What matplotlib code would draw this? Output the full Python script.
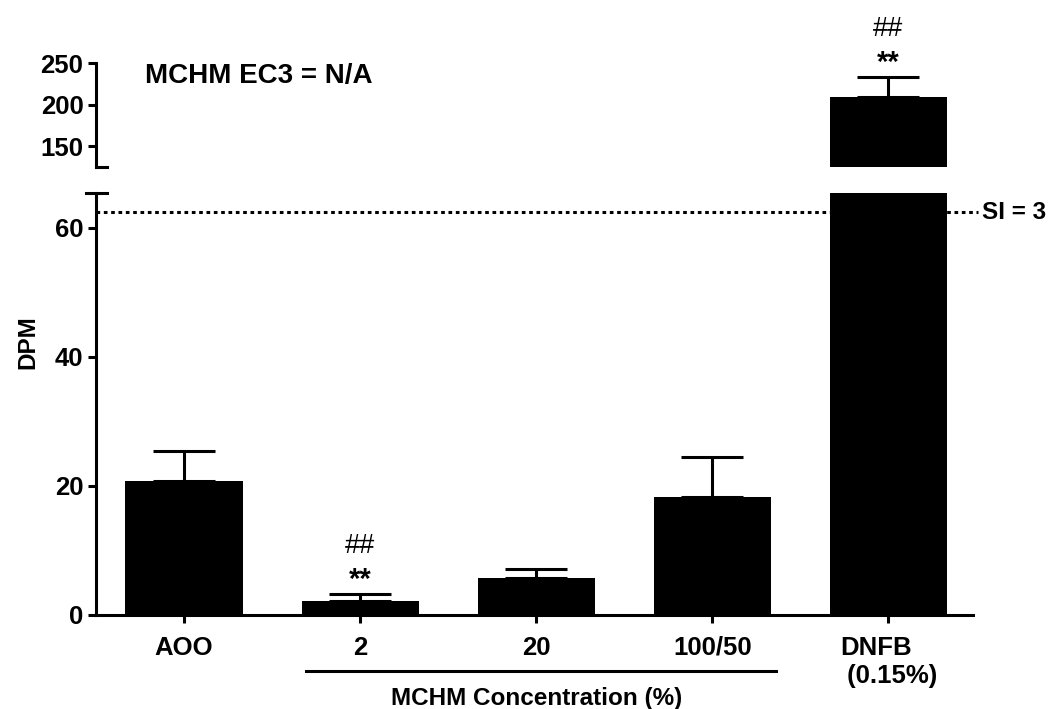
import matplotlib
matplotlib.use("Agg")
import matplotlib.pyplot as plt

plt.rcParams['font.family'] = ['Liberation Sans', 'DejaVu Sans']
plt.rcParams['font.weight'] = 'bold'

# data
groups = ["AOO", "2", "20", "100/50", "DNFB\n (0.15%)"]
means = [20.8, 2.2, 5.7, 18.3, 209]
errors = [4.6, 1.1, 1.4, 6.2, 24]
stars = ["", "**", "", "", "**"]
hashes = ["", "##", "", "", "##"]
si_level = 3 * means[0]

lw = 2.2
fs = 18.5

fig = plt.figure(figsize=(10.5, 7.09), dpi=100)
ax_lo = fig.add_axes([0.0914, 0.1326, 0.8352, 0.5952])
ax_hi = fig.add_axes([0.0914, 0.7645, 0.8352, 0.1466])

x = list(range(len(groups)))

for ax in (ax_lo, ax_hi):
    ax.bar(x, means, width=0.665, color="black", zorder=2)
    ax.set_xlim(-0.5, 4.48)
    for s in ("top", "right"):
        ax.spines[s].set_visible(False)
    ax.spines["left"].set_linewidth(lw)
    ax.spines["bottom"].set_linewidth(lw)
    ax.tick_params(width=lw, length=6, labelsize=fs, pad=3)

# lower part
ax_lo.set_ylim(0, 65.4)
ax_lo.set_yticks([0, 20, 40, 60])
ax_lo.set_xticks(x)
ax_lo.set_xticklabels(groups, fontsize=fs, fontweight="bold", multialignment="left")
ax_lo.tick_params(axis="x", pad=9)
lo = [(xi, m, e) for xi, m, e in zip(x, means, errors) if m < 65]
ax_lo.errorbar([p[0] for p in lo], [p[1] for p in lo],
               yerr=[[0] * len(lo), [p[2] for p in lo]],
               fmt="none", ecolor="black", elinewidth=lw, capsize=22, capthick=lw, zorder=3)
ax_lo.plot([-0.5, 4.51], [si_level, si_level], linestyle=(0, (1.2, 1.2)), color="black",
           linewidth=lw, clip_on=False, zorder=1)
ax_lo.text(4.53, si_level, "SI = 3", fontsize=17.5, fontweight="bold", va="center", ha="left")
ax_lo.plot([-0.011, 0.013], [1, 1], color="black", linewidth=lw,
           transform=ax_lo.transAxes, clip_on=False)

# upper part
ax_hi.set_ylim(125, 250)
ax_hi.set_yticks([150, 200, 250])
ax_hi.spines["bottom"].set_visible(False)
ax_hi.set_xticks([])
hi = [(xi, m, e) for xi, m, e in zip(x, means, errors) if m >= 65]
ax_hi.errorbar([p[0] for p in hi], [p[1] for p in hi],
               yerr=[[0] * len(hi), [p[2] for p in hi]],
               fmt="none", ecolor="black", elinewidth=lw, capsize=22, capthick=lw, zorder=3)
ax_hi.plot([0, 0.013], [0, 0], color="black", linewidth=lw,
           transform=ax_hi.transAxes, clip_on=False)
ax_hi.text(0.056, 0.88, "MCHM EC3 = N/A", transform=ax_hi.transAxes, fontsize=20,
           fontweight="bold", va="center", ha="left")

# significance marks
for xi, m, e, st, hs in zip(x, means, errors, stars, hashes):
    if not st:
        continue
    ax = ax_hi if m >= 65 else ax_lo
    ax.annotate(st, (xi, m + e), xytext=(0, 0), textcoords="offset points",
                ha="center", va="bottom", fontsize=21, fontweight="bold", annotation_clip=False)
    ax.annotate(hs, (xi, m + e), xytext=(0, 25), textcoords="offset points",
                ha="center", va="bottom", fontsize=19.5, fontweight="normal", annotation_clip=False)

# group line and label under the MCHM doses
xt = ax_lo.get_xaxis_transform()
ax_lo.plot([0.69, 3.36], [-0.133, -0.133], color="black", linewidth=lw,
           transform=xt, clip_on=False)
ax_lo.text(2.0, -0.17, "MCHM Concentration (%)", transform=xt,
           fontsize=17.5, fontweight="bold", ha="center", va="top")

fig.text(0.027, 1 - 342 / 709, "DPM", rotation=90, fontsize=17.5, fontweight="bold",
         ha="center", va="center")

fig.savefig("out.png", dpi=100)
